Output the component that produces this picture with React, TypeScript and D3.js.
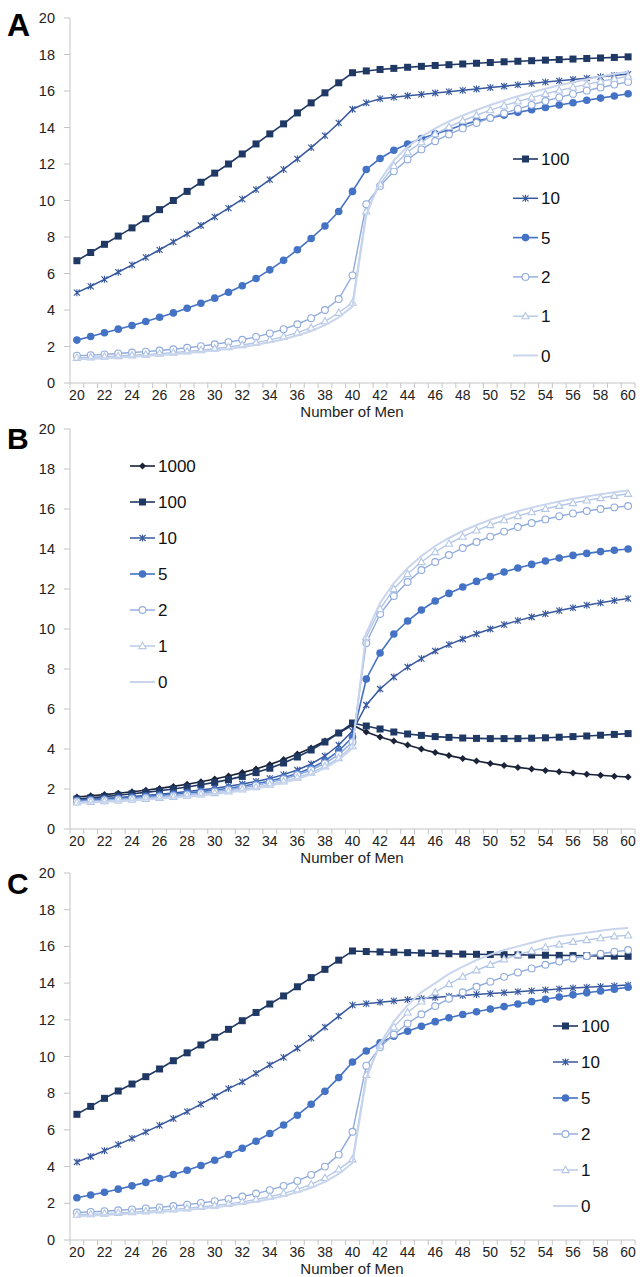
import * as d3 from "d3";

// x categories (number of men) and y ticks
const men = d3.range(20, 61);
const yTicks = [0, 2, 4, 6, 8, 10, 12, 14, 16, 18, 20];
const xLabels = [20, 22, 24, 26, 28, 30, 32, 34, 36, 38, 40, 42, 44, 46, 48, 50, 52, 54, 56, 58, 60];

// --- panel A ---
const a100 = [6.70,7.15,7.60,8.05,8.50,9.00,9.50,10.00,10.50,11.00,11.50,12.00,12.55,13.10,13.65,14.20,14.80,15.35,15.90,16.45,17.00,17.10,17.18,17.24,17.30,17.35,17.40,17.44,17.48,17.52,17.56,17.60,17.63,17.66,17.69,17.72,17.75,17.78,17.81,17.84,17.87];
const a10 = [4.95,5.30,5.68,6.07,6.47,6.88,7.30,7.73,8.17,8.63,9.10,9.58,10.08,10.60,11.14,11.70,12.28,12.90,13.55,14.25,15.00,15.35,15.58,15.66,15.74,15.81,15.89,15.96,16.04,16.11,16.19,16.26,16.34,16.41,16.49,16.56,16.63,16.70,16.78,16.85,16.93];
const a5 = [2.35,2.55,2.75,2.95,3.15,3.37,3.60,3.84,4.10,4.37,4.65,4.97,5.33,5.73,6.20,6.72,7.30,7.92,8.60,9.40,10.50,11.70,12.30,12.75,13.10,13.40,13.65,13.88,14.15,14.35,14.52,14.68,14.83,14.97,15.10,15.23,15.36,15.49,15.61,15.73,15.85];
const a2 = [1.50,1.53,1.57,1.62,1.67,1.72,1.78,1.85,1.93,2.02,2.12,2.24,2.37,2.53,2.72,2.95,3.22,3.55,4.00,4.60,5.90,9.80,10.80,11.60,12.25,12.80,13.25,13.62,13.95,14.25,14.52,14.78,15.02,15.24,15.45,15.65,15.84,16.02,16.19,16.35,16.50];
const a1 = [1.38,1.41,1.44,1.48,1.52,1.56,1.61,1.67,1.73,1.80,1.88,1.97,2.08,2.21,2.36,2.54,2.76,3.03,3.38,3.85,4.40,9.40,10.90,11.90,12.65,13.20,13.65,14.03,14.37,14.67,14.95,15.20,15.43,15.64,15.84,16.03,16.20,16.36,16.52,16.67,16.80];
const a0 = [1.30,1.33,1.36,1.40,1.44,1.48,1.53,1.58,1.64,1.71,1.78,1.87,1.97,2.09,2.23,2.40,2.60,2.85,3.17,3.60,4.20,9.20,11.10,12.20,12.95,13.50,13.95,14.33,14.66,14.96,15.23,15.48,15.71,15.92,16.12,16.31,16.48,16.64,16.79,16.93,17.05];

// --- panel B ---
const b1000 = [1.60,1.66,1.72,1.79,1.86,1.94,2.03,2.13,2.24,2.36,2.50,2.65,2.82,3.00,3.22,3.47,3.75,4.05,4.40,4.80,5.20,4.85,4.60,4.40,4.20,4.00,3.82,3.67,3.53,3.40,3.28,3.17,3.08,3.00,2.93,2.86,2.80,2.74,2.69,2.64,2.60];
const b100 = [1.50,1.56,1.62,1.69,1.76,1.83,1.91,2.00,2.10,2.21,2.33,2.47,2.63,2.82,3.04,3.30,3.60,3.95,4.35,4.80,5.30,5.15,5.00,4.85,4.75,4.68,4.62,4.58,4.55,4.53,4.52,4.52,4.52,4.54,4.56,4.59,4.62,4.65,4.69,4.73,4.77];
const b10 = [1.45,1.49,1.53,1.58,1.63,1.68,1.74,1.80,1.87,1.95,2.04,2.14,2.25,2.38,2.53,2.72,2.95,3.25,3.65,4.20,4.90,6.20,7.00,7.60,8.10,8.52,8.90,9.22,9.50,9.76,10.00,10.22,10.42,10.60,10.76,10.92,11.06,11.19,11.31,11.42,11.52];
const b5 = [1.42,1.46,1.50,1.54,1.58,1.63,1.68,1.74,1.80,1.87,1.95,2.04,2.14,2.26,2.40,2.57,2.78,3.05,3.40,3.90,4.60,7.50,8.80,9.75,10.40,10.95,11.40,11.78,12.10,12.38,12.62,12.85,13.05,13.23,13.40,13.55,13.68,13.78,13.87,13.94,14.00];
const b2 = [1.38,1.41,1.44,1.48,1.52,1.56,1.61,1.66,1.72,1.79,1.87,1.96,2.06,2.18,2.32,2.49,2.70,2.95,3.28,3.72,4.35,9.30,10.75,11.65,12.35,12.95,13.35,13.70,14.05,14.35,14.62,14.87,15.10,15.30,15.48,15.64,15.78,15.90,16.00,16.08,16.15];
const b1 = [1.33,1.36,1.39,1.43,1.47,1.51,1.56,1.61,1.67,1.73,1.80,1.88,1.98,2.09,2.22,2.38,2.57,2.82,3.13,3.55,4.15,9.60,11.00,12.00,12.75,13.35,13.85,14.27,14.62,14.93,15.20,15.44,15.65,15.84,16.01,16.16,16.30,16.43,16.55,16.66,16.76];
const b0 = [1.30,1.33,1.36,1.39,1.43,1.47,1.51,1.56,1.62,1.68,1.75,1.83,1.92,2.03,2.16,2.31,2.50,2.74,3.05,3.45,4.05,9.80,11.30,12.30,13.05,13.65,14.15,14.55,14.90,15.20,15.46,15.69,15.89,16.07,16.23,16.38,16.51,16.63,16.74,16.84,16.93];

// --- panel C ---
const c100 = [6.85,7.28,7.72,8.12,8.50,8.90,9.32,9.77,10.20,10.63,11.05,11.48,11.95,12.40,12.86,13.30,13.80,14.30,14.75,15.25,15.75,15.72,15.70,15.68,15.66,15.64,15.62,15.60,15.58,15.57,15.56,15.55,15.54,15.53,15.52,15.51,15.50,15.49,15.48,15.47,15.46];
const c10 = [4.25,4.55,4.87,5.20,5.54,5.89,6.25,6.62,7.00,7.40,7.82,8.25,8.62,9.08,9.54,9.95,10.45,11.00,11.60,12.20,12.80,12.88,12.96,13.03,13.10,13.16,13.22,13.28,13.33,13.38,13.43,13.48,13.53,13.58,13.63,13.68,13.73,13.77,13.81,13.85,13.89];
const c5 = [2.30,2.45,2.60,2.77,2.95,3.14,3.35,3.57,3.80,4.06,4.35,4.66,5.00,5.38,5.80,6.27,6.80,7.40,8.10,8.85,9.70,10.30,10.75,11.10,11.38,11.65,11.90,12.11,12.29,12.44,12.59,12.72,12.86,12.99,13.12,13.24,13.36,13.47,13.57,13.67,13.77];
const c2 = [1.50,1.53,1.57,1.62,1.67,1.72,1.78,1.85,1.93,2.02,2.12,2.24,2.37,2.53,2.72,2.95,3.22,3.55,4.00,4.65,5.90,9.50,10.50,11.20,11.80,12.30,12.75,13.15,13.50,13.80,14.08,14.34,14.58,14.80,15.00,15.18,15.34,15.48,15.60,15.71,15.80];
const c1 = [1.38,1.41,1.44,1.48,1.52,1.56,1.61,1.67,1.73,1.80,1.88,1.97,2.08,2.21,2.36,2.54,2.76,3.03,3.38,3.85,4.40,9.00,10.60,11.60,12.40,13.00,13.50,13.95,14.35,14.70,15.00,15.30,15.55,15.75,15.95,16.10,16.25,16.35,16.45,16.55,16.60];
const c0 = [1.30,1.33,1.36,1.40,1.44,1.48,1.53,1.58,1.64,1.71,1.78,1.87,1.97,2.09,2.23,2.40,2.60,2.85,3.17,3.60,4.20,8.80,10.70,11.90,12.80,13.50,14.00,14.50,14.90,15.25,15.55,15.80,16.00,16.20,16.40,16.55,16.65,16.75,16.85,16.95,17.00];

// series look (Excel blue ramp)
const style: Record<string, { color: string; marker: string; width: number }> = {
  "1000": { color: "#1b2338", marker: "diamond", width: 1.6 },
  "100": { color: "#1f3864", marker: "square", width: 1.6 },
  "10": { color: "#37589e", marker: "star", width: 1.5 },
  "5": { color: "#4472c4", marker: "dot", width: 1.6 },
  "2": { color: "#8faadc", marker: "circle", width: 1.4 },
  "1": { color: "#b4c7e7", marker: "triangle", width: 1.4 },
  "0": { color: "#c9d5ec", marker: "none", width: 2 },
};

const FONT = "'Liberation Sans', Arial, sans-serif";
const AXIS = "#c4c4c4";

function Marker({ kind, x, y, color }: { kind: string; x: number; y: number; color: string }) {
  switch (kind) {
    case "square":
      return <rect x={x - 3.5} y={y - 3.5} width={7} height={7} fill={color} />;
    case "diamond":
      return <path d={`M${x},${y - 3.5}L${x + 3.5},${y}L${x},${y + 3.5}L${x - 3.5},${y}Z`} fill={color} />;
    case "dot":
      return <circle cx={x} cy={y} r={3.8} fill={color} />;
    case "circle":
      return <circle cx={x} cy={y} r={3.4} fill="white" stroke={color} strokeWidth={1.1} />;
    case "triangle":
      return <path d={`M${x},${y - 3.8}L${x + 3.6},${y + 2.6}L${x - 3.6},${y + 2.6}Z`} fill="white" stroke={color} strokeWidth={1.1} />;
    case "star":
      return (
        <path
          d={`M${x - 3},${y - 3}L${x + 3},${y + 3}M${x - 3},${y + 3}L${x + 3},${y - 3}M${x},${y - 3.5}L${x},${y + 3.5}`}
          stroke={color}
          strokeWidth={1.1}
        />
      );
    default:
      return null;
  }
}

type PanelProps = {
  letter: string;
  letterSize: number;
  letterY: number;
  top: number;
  bottom: number;
  series: [string, number[]][];
  legend: { x: number; y: number; step: number };
};

function Panel({ letter, letterSize, letterY, top, bottom, series, legend }: PanelProps) {
  const x = d3.scaleBand<number>().domain(men).range([70, 635]);
  const y = d3.scaleLinear().domain([0, 20]).range([bottom, top]);
  const bw = x.bandwidth();
  const cx = (m: number) => (x(m) as number) + bw / 2;
  const line = d3
    .line<number>()
    .x((_, i) => cx(men[i]))
    .y((d) => y(d));

  return (
    <g>
      <text x={7} y={letterY} fontFamily="'Liberation Sans', Arial, sans-serif" fontWeight="bold" fontSize={letterSize}>
        {letter}
      </text>

      {/* y axis */}
      <line x1={70} x2={70} y1={top} y2={bottom} stroke={AXIS} />
      {yTicks.map((t) => (
        <g key={t}>
          <line x1={64} x2={70} y1={y(t)} y2={y(t)} stroke={AXIS} />
          <text x={55} y={y(t)} dy="0.35em" textAnchor="end" fontFamily={FONT} fontSize={14.5} fill="#222">
            {t}
          </text>
        </g>
      ))}

      {/* x axis */}
      <line x1={70} x2={635} y1={bottom} y2={bottom} stroke={AXIS} />
      {d3.range(men.length + 1).map((i) => (
        <line key={i} x1={70 + i * bw} x2={70 + i * bw} y1={bottom} y2={bottom + 5} stroke={AXIS} />
      ))}
      {xLabels.map((m) => (
        <text key={m} x={cx(m)} y={bottom + 16.5} textAnchor="middle" fontFamily={FONT} fontSize={14} fill="#222">
          {m}
        </text>
      ))}
      <text x={352} y={bottom + 33.5} textAnchor="middle" fontFamily={FONT} fontSize={15} fill="#222">
        Number of Men
      </text>

      {/* series */}
      {series.map(([name, vals]) => {
        const s = style[name];
        return (
          <g key={name}>
            <path d={line(vals) ?? ""} fill="none" stroke={s.color} strokeWidth={s.width} />
            {vals.map((v, i) => (
              <Marker key={i} kind={s.marker} x={cx(men[i])} y={y(v)} color={s.color} />
            ))}
          </g>
        );
      })}

      {/* legend */}
      {series.map(([name], i) => {
        const s = style[name];
        const ly = legend.y + i * legend.step;
        return (
          <g key={name}>
            <line x1={legend.x} x2={legend.x + 25} y1={ly} y2={ly} stroke={s.color} strokeWidth={s.width} />
            <Marker kind={s.marker} x={legend.x + 12.5} y={ly} color={s.color} />
            <text x={legend.x + 28} y={ly} dy="0.36em" fontFamily={FONT} fontSize={17} fill="#111">
              {name}
            </text>
          </g>
        );
      })}
    </g>
  );
}

export default function App() {
  return (
    <div style={{ position: "absolute", left: 0, top: 0 }}>
      <svg width={643} height={1277} style={{ display: "block", background: "white" }}>
        <Panel
          letter="A"
          letterSize={32}
          letterY={36}
          top={18}
          bottom={383}
          series={[["100", a100], ["10", a10], ["5", a5], ["2", a2], ["1", a1], ["0", a0]]}
          legend={{ x: 513, y: 159, step: 39.3 }}
        />
        <Panel
          letter="B"
          letterSize={30}
          letterY={449}
          top={429}
          bottom={829}
          series={[["1000", b1000], ["100", b100], ["10", b10], ["5", b5], ["2", b2], ["1", b1], ["0", b0]]}
          legend={{ x: 130, y: 466, step: 36 }}
        />
        <Panel
          letter="C"
          letterSize={30}
          letterY={894}
          top={873}
          bottom={1240}
          series={[["100", c100], ["10", c10], ["5", c5], ["2", c2], ["1", c1], ["0", c0]]}
          legend={{ x: 553, y: 1026, step: 36 }}
        />
      </svg>
    </div>
  );
}
